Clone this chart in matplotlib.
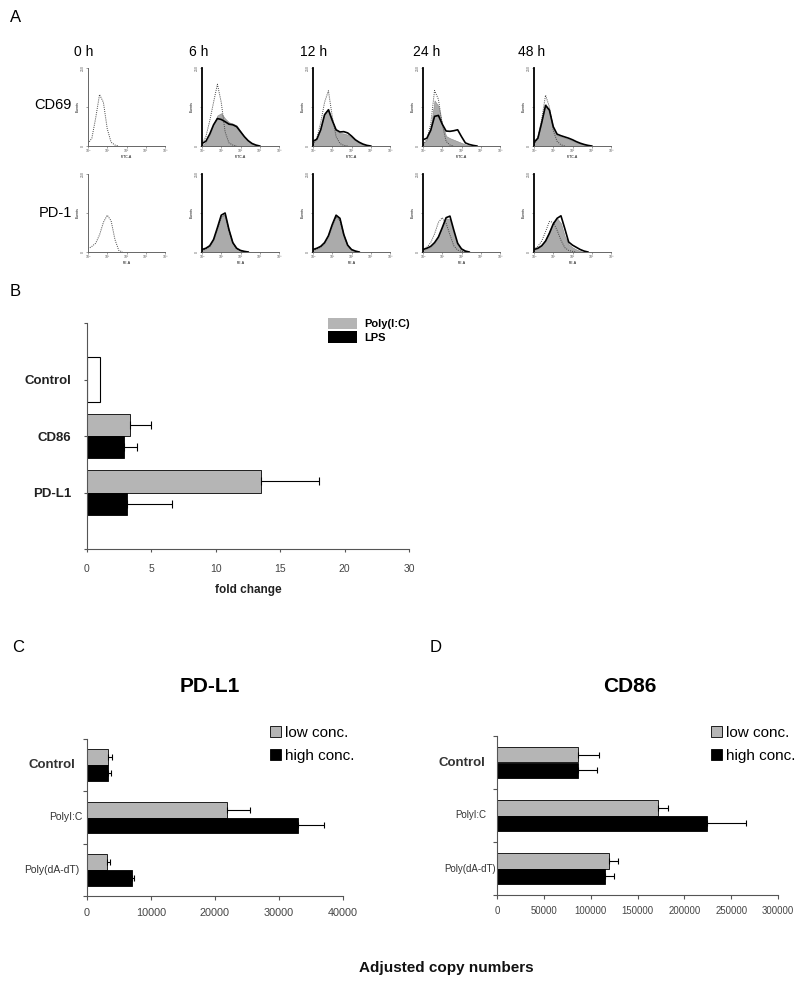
import matplotlib
matplotlib.use('Agg')
import matplotlib.pyplot as plt
from matplotlib.patches import Patch

plt.rcParams['font.family'] = ['Liberation Sans', 'DejaVu Sans']

W, H = 800, 984

# ---- panel A: flow cytometry histograms (counts) ----
HOURS = ['0 h', '6 h', '12 h', '24 h', '48 h']
MARKERS = ['CD69', 'PD-1']
CHANNELS = ['FITC-A', 'PE-A']
LOG_X = [0.0, 0.2, 0.4, 0.6, 0.8, 1.0, 1.2, 1.4, 1.6, 1.8, 2.0,
         2.2, 2.4, 2.6, 2.8, 3.0, 3.2, 3.4, 3.6, 3.8, 4.0]
X_TICKLABELS = ['10⁰', '10¹', '10²', '10³', '10⁴']

CD69_DOTTED = [
  [8, 25, 90, 165, 140, 55, 12, 3, 0],
  [5, 30, 80, 140, 198, 140, 45, 10, 3, 0],
  [5, 25, 75, 140, 177, 95, 30, 8, 2, 0],
  [5, 20, 70, 178, 150, 70, 15, 3, 0],
  [5, 25, 85, 163, 125, 50, 15, 4, 0],
]
CD69_GRAY = [
  None,
  [3, 12, 35, 70, 98, 105, 88, 76, 72, 66, 48, 30, 16, 7, 2, 0],
  [10, 22, 55, 105, 120, 80, 50, 42, 40, 36, 28, 18, 10, 5, 2, 0],
  [8, 20, 60, 146, 128, 70, 32, 25, 20, 15, 10, 5, 2, 0],
  [10, 25, 80, 135, 115, 60, 35, 30, 26, 22, 17, 12, 8, 5, 2, 0],
]
CD69_BLACK = [
  None,
  [8, 15, 38, 68, 88, 85, 78, 70, 68, 62, 46, 30, 17, 8, 3, 0],
  [15, 22, 52, 100, 116, 82, 52, 45, 46, 42, 32, 20, 12, 6, 2, 0],
  [20, 25, 50, 95, 98, 70, 48, 47, 49, 52, 30, 10, 5, 2, 0],
  [12, 25, 75, 130, 115, 62, 38, 33, 29, 25, 20, 14, 9, 5, 2, 0],
]
PD1_DOTTED = [
  [10, 18, 28, 55, 95, 118, 100, 40, 5, 0],
  [5, 10, 18, 38, 74, 112, 118, 68, 28, 10, 4, 1, 0],
  [5, 10, 16, 28, 50, 85, 112, 100, 52, 20, 7, 2, 0],
  [8, 15, 30, 58, 95, 110, 92, 55, 20, 6, 2, 0],
  [8, 18, 35, 65, 98, 95, 70, 38, 14, 5, 2, 0],
]
PD1_GRAY = [
  None,
  [6, 10, 18, 38, 75, 115, 120, 70, 30, 12, 5, 2, 0],
  [6, 10, 16, 28, 50, 85, 115, 105, 55, 22, 8, 3, 0],
  [6, 10, 16, 28, 50, 80, 108, 105, 58, 22, 8, 3, 0],
  [6, 12, 22, 40, 68, 95, 108, 92, 50, 25, 15, 8, 3, 0],
]
PD1_BLACK = [
  None,
  [8, 12, 20, 40, 78, 118, 125, 72, 30, 12, 5, 2, 0],
  [8, 12, 18, 30, 52, 88, 118, 108, 56, 22, 8, 3, 0],
  [8, 12, 18, 30, 48, 78, 110, 115, 70, 28, 10, 3, 0],
  [8, 12, 20, 35, 60, 90, 108, 116, 75, 32, 22, 15, 8, 3, 0],
]

# ---- panel B: fold change ----
B_CATS = ['Control', 'CD86', 'PD-L1']
B_CONTROL = 1.0
B_POLY = [3.3, 13.5]
B_POLY_ERR = [1.7, 4.5]
B_LPS = [2.85, 3.1]
B_LPS_ERR = [1.05, 3.5]
B_XTICKS = [0, 5, 10, 15, 20, 25]
B_XTICKLABELS = ['0', '5', '10', '15', '20', '30']

# ---- panels C / D: adjusted copy numbers ----
CD_CATS = ['Control', 'PolyI:C', 'Poly(dA-dT)']
C_LOW = [3300, 21900, 3100]
C_LOW_ERR = [600, 3600, 450]
C_HIGH = [3300, 33000, 7000]
C_HIGH_ERR = [500, 4000, 400]
D_LOW = [86500, 172000, 120000]
D_LOW_ERR = [22000, 10500, 9500]
D_HIGH = [86500, 224000, 115500]
D_HIGH_ERR = [20500, 42000, 9000]

GRAY = '#ababab'
BARGRAY = '#b5b5b5'


def box(x0, y0, x1, y1):
  return [x0 / W, 1 - y1 / H, (x1 - x0) / W, (y1 - y0) / H]


def draw_hist(ax, dotted, gray, black, channel, dark_axis):
  if gray is not None:
    ax.fill_between(LOG_X[:len(gray)], gray, color=GRAY, edgecolor='#888888', lw=0.4)
  if dotted is not None:
    ax.plot(LOG_X[:len(dotted)], dotted, color='#444444', ls=(0, (1, 1.2)), lw=0.7)
  if black is not None:
    ax.plot(LOG_X[:len(black)], black, color='black', lw=1.2)
  ax.set_xlim(0, 4)
  ax.set_ylim(0, 250)
  for s in ['top', 'right']:
    ax.spines[s].set_visible(False)
  ax.spines['bottom'].set_color('#666666')
  ax.spines['bottom'].set_linewidth(0.7)
  if dark_axis:
    ax.spines['left'].set_color('black')
    ax.spines['left'].set_linewidth(1.3)
  else:
    ax.spines['left'].set_color('#666666')
    ax.spines['left'].set_linewidth(0.7)
  ax.set_xticks([0, 1, 2, 3, 4])
  ax.set_xticklabels(X_TICKLABELS, fontsize=2.5)
  ax.set_yticks([0, 125, 250])
  ax.set_yticklabels(['0', '', '250'], fontsize=2.5, rotation=90, va='center')
  ax.set_xlabel(channel, fontsize=2.5, labelpad=1)
  ax.set_ylabel('Events', fontsize=2.5, labelpad=0.5)
  ax.tick_params(length=1.5, width=0.4, pad=0.8, colors='#555555')


def style_bar_axes(ax):
  for s in ['top', 'right']:
    ax.spines[s].set_visible(False)
  for s in ['left', 'bottom']:
    ax.spines[s].set_color('#555555')
    ax.spines[s].set_linewidth(0.8)


fig = plt.figure(figsize=(W / 100, H / 100), dpi=100)

for letter, x, y in [('A', 10, 17), ('B', 10, 292), ('C', 12, 647), ('D', 430, 647)]:
  fig.text(x / W, 1 - y / H, letter, fontsize=12, va='center', ha='left')

# ---- panel A ----
hist_left = [88, 202, 313, 423, 534]
hist_rows = [(68, 146), (174, 252)]
header_x = [84, 199, 314, 427, 532]
row_label_y = [105, 213]
rows = [(CD69_DOTTED, CD69_GRAY, CD69_BLACK), (PD1_DOTTED, PD1_GRAY, PD1_BLACK)]

for i, h in enumerate(HOURS):
  fig.text(header_x[i] / W, 1 - 52 / H, h, fontsize=10, ha='center', va='center')

for r, (dotted, gray, black) in enumerate(rows):
  fig.text(72 / W, 1 - row_label_y[r] / H, MARKERS[r], fontsize=10.5, ha='right', va='center')
  top, bottom = hist_rows[r]
  for i in range(len(HOURS)):
    ax = fig.add_axes(box(hist_left[i], top, hist_left[i] + 77, bottom))
    draw_hist(ax, dotted[i], gray[i], black[i], CHANNELS[r], i > 0)

# ---- panel B ----
axB = fig.add_axes(box(87, 323, 409, 549))
err_kw = dict(ecolor='black', elinewidth=0.8, capsize=3, capthick=0.8)
axB.barh(1, B_CONTROL, height=0.78, color='white', edgecolor='black', lw=0.8)
axB.barh([2 - 0.195, 3 - 0.195], B_POLY, height=0.39, color=BARGRAY, edgecolor='black',
         lw=0.6, xerr=[[0, 0], B_POLY_ERR], error_kw=err_kw)
axB.barh([2 + 0.195, 3 + 0.195], B_LPS, height=0.39, color='black', edgecolor='black',
         lw=0.6, xerr=[[0, 0], B_LPS_ERR], error_kw=err_kw)
axB.set_xlim(0, 25)
axB.set_ylim(4, 0)
axB.set_yticks([0, 1, 2, 3, 4])
axB.set_yticklabels([''] + B_CATS + [''], fontsize=9.5, fontweight='bold', color='#222222')
axB.set_xticks(B_XTICKS)
axB.set_xticklabels(B_XTICKLABELS, fontsize=7.5, color='#444444')
axB.tick_params(axis='y', length=2.5, width=0.8, pad=9, colors='#555555', labelcolor='#222222')
axB.tick_params(axis='x', length=2.5, width=0.8, pad=8, colors='#555555', labelcolor='#444444')
style_bar_axes(axB)
fig.text(248 / W, 1 - 590 / H, 'fold change', fontsize=8.5, fontweight='bold',
         ha='center', va='center', color='#222222')
axB.legend(handles=[Patch(facecolor=BARGRAY, edgecolor='none', label='Poly(I:C)'),
                    Patch(facecolor='black', edgecolor='none', label='LPS')],
           loc='upper left', bbox_to_anchor=(328 / W, 1 - 318 / H), bbox_transform=fig.transFigure,
           frameon=False, prop={'weight': 'bold', 'size': 8}, handlelength=2.6, handleheight=1.2,
           handletextpad=0.7, labelspacing=0.15, borderpad=0, borderaxespad=0)


# ---- panels C / D ----
def draw_copy_panel(rect, low, low_err, high, high_err, xmax, xstep, label_gaps, small_size,
                    title, title_x, legend_xy, tick_size, tick_pad):
  ax = fig.add_axes(box(*rect))
  pos = [0.5, 1.5, 2.5]
  ekw = dict(ecolor='black', elinewidth=0.8, capsize=2.5, capthick=0.8)
  ax.barh([p - 0.15 for p in pos], low, height=0.3, color=BARGRAY, edgecolor='black', lw=0.6,
          xerr=[[0] * 3, low_err], error_kw=ekw)
  ax.barh([p + 0.15 for p in pos], high, height=0.3, color='black', edgecolor='black', lw=0.6,
          xerr=[[0] * 3, high_err], error_kw=ekw)
  ax.set_xlim(0, xmax)
  ax.set_ylim(3, 0)
  ax.set_yticks([0, 1, 2, 3])
  ax.set_yticklabels([])
  ax.set_xticks(list(range(0, xmax + 1, xstep)))
  ax.set_xticklabels([str(v) for v in range(0, xmax + 1, xstep)], fontsize=tick_size)
  ax.tick_params(axis='both', length=3, width=0.8, colors='#555555', labelcolor='#444444')
  ax.tick_params(axis='x', pad=tick_pad)
  style_bar_axes(ax)
  for k, cat in enumerate(CD_CATS):
    bold = k == 0
    ax.annotate(cat, xy=(0, pos[k]), xycoords=('axes fraction', 'data'),
                xytext=(-label_gaps[k] * 0.72, 0), textcoords='offset points',
                ha='right', va='center', color='#333333',
                fontsize=9.5 if bold else small_size, fontweight='bold' if bold else 'normal')
  fig.text(title_x / W, 1 - 687 / H, title, fontsize=15, fontweight='bold', ha='center', va='center')
  fig.legend(handles=[Patch(facecolor=BARGRAY, edgecolor='black', lw=0.6, label='low conc.'),
                      Patch(facecolor='black', edgecolor='black', lw=0.6, label='high conc.')],
             loc='upper left', bbox_to_anchor=(legend_xy[0] / W, 1 - legend_xy[1] / H),
             frameon=False, fontsize=11, handlelength=0.75, handleheight=0.75,
             handletextpad=0.25, labelspacing=0.6, borderpad=0, borderaxespad=0)
  return ax


draw_copy_panel((87, 739, 343, 896), C_LOW, C_LOW_ERR, C_HIGH, C_HIGH_ERR, 40000, 10000,
                [12, 5, 8], 7.5, 'PD-L1', 210, (270, 726), 7.8, 6)
draw_copy_panel((497, 736, 778, 895), D_LOW, D_LOW_ERR, D_HIGH, D_HIGH_ERR, 300000, 50000,
                [12, 11, 1], 7, 'CD86', 630, (711, 726), 6.9, 5)

fig.text(446 / W, 1 - 968 / H, 'Adjusted copy numbers', fontsize=11, fontweight='bold',
         ha='center', va='center', color='#111111')

fig.savefig('out.png', dpi=100)
